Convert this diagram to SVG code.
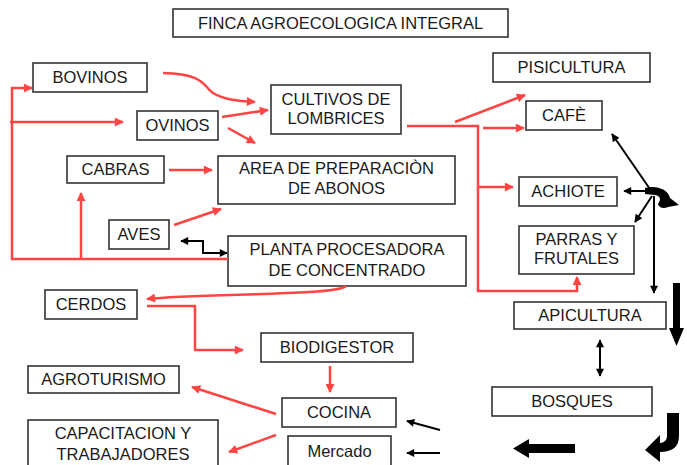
<svg xmlns="http://www.w3.org/2000/svg" width="687" height="465" viewBox="0 0 687 465">
<defs>
<style>
.box{fill:#fff;stroke:#333;stroke-width:1.6}
.t{font-family:"Liberation Sans",Arial,sans-serif;font-size:16.5px;fill:#1a1a1a;text-anchor:middle}
.r{fill:none;stroke:#f44;stroke-width:2.5}
.k{fill:none;stroke:#000;stroke-width:2}
</style>
<marker id="ra" viewBox="0 0 10 10" refX="9" refY="5" markerWidth="11" markerHeight="9" markerUnits="userSpaceOnUse" orient="auto"><path d="M0,0L10,5L0,10z" fill="#f44"/></marker>
<marker id="ka" viewBox="0 0 10 10" refX="9" refY="5" markerWidth="10" markerHeight="8" markerUnits="userSpaceOnUse" orient="auto-start-reverse"><path d="M0,0L10,5L0,10z" fill="#000"/></marker>
</defs>
<rect width="687" height="465" fill="#fff"/>
<g id="title"><rect class="box" x="173" y="9" width="335" height="28"/><text class="t" x="340.5" y="29">FINCA AGROECOLOGICA INTEGRAL</text></g>
<g id="bovinos"><rect class="box" x="33" y="63" width="114" height="29"/><text class="t" x="90" y="83">BOVINOS</text></g>
<g id="cultivos"><rect class="box" x="271" y="85" width="130" height="49"/><text class="t" x="336" y="105">CULTIVOS DE</text><text class="t" x="336" y="124">LOMBRICES</text></g>
<g id="ovinos"><rect class="box" x="137" y="111" width="81" height="29"/><text class="t" x="177.5" y="131">OVINOS</text></g>
<g id="cabras"><rect class="box" x="67" y="156" width="97" height="27"/><text class="t" x="115.5" y="175">CABRAS</text></g>
<g id="area"><rect class="box" x="218" y="156" width="237" height="48"/><text class="t" x="336.5" y="174">AREA DE PREPARACIÒN</text><text class="t" x="336.5" y="194">DE ABONOS</text></g>
<g id="aves"><rect class="box" x="109" y="220" width="60" height="29"/><text class="t" x="139" y="240">AVES</text></g>
<g id="planta"><rect class="box" x="228" y="236" width="238" height="50"/><text class="t" x="347" y="255">PLANTA PROCESADORA</text><text class="t" x="347" y="276">DE CONCENTRADO</text></g>
<g id="pisicultura"><rect class="box" x="493" y="53" width="157" height="29"/><text class="t" x="571.5" y="73">PISICULTURA</text></g>
<g id="cafe"><rect class="box" x="526" y="101" width="76" height="29"/><text class="t" x="564" y="121">CAFÈ</text></g>
<g id="achiote"><rect class="box" x="519" y="177" width="98" height="29"/><text class="t" x="568" y="197">ACHIOTE</text></g>
<g id="parras"><rect class="box" x="519" y="226" width="115" height="48"/><text class="t" x="576.5" y="245">PARRAS Y</text><text class="t" x="576.5" y="264">FRUTALES</text></g>
<g id="apicultura"><rect class="box" x="514" y="302" width="152" height="27"/><text class="t" x="590" y="321">APICULTURA</text></g>
<g id="bosques"><rect class="box" x="492" y="387" width="160" height="29"/><text class="t" x="572" y="407">BOSQUES</text></g>
<g id="cerdos"><rect class="box" x="45" y="290" width="92" height="29"/><text class="t" x="91" y="310">CERDOS</text></g>
<g id="biodigestor"><rect class="box" x="261" y="333" width="152" height="29"/><text class="t" x="337" y="353">BIODIGESTOR</text></g>
<g id="agroturismo"><rect class="box" x="28" y="366" width="151" height="27"/><text class="t" x="103.5" y="385">AGROTURISMO</text></g>
<g id="cocina"><rect class="box" x="282" y="398" width="114" height="29"/><text class="t" x="339" y="418">COCINA</text></g>
<g id="mercado"><rect class="box" x="288" y="436" width="103" height="30"/><text class="t" x="339.5" y="457">Mercado</text></g>
<g id="capacitacion"><rect class="box" x="28" y="420" width="190" height="47"/><text class="t" x="123" y="439">CAPACITACION Y</text><text class="t" x="123" y="460">TRABAJADORES</text></g>
<g id="connectors">
<path class="r" d="M163,73 C205,74 203,86 213,93 C224,100 240,101 255,102" marker-end="url(#ra)"/>
<path class="r" d="M228,259 H12 V88 H32" marker-end="url(#ra)"/>
<path class="r" d="M81,259 V193" marker-end="url(#ra)"/>
<path class="r" d="M10,122 H123" marker-end="url(#ra)"/>
<path class="r" d="M222,117 L268,110" marker-end="url(#ra)"/>
<path class="r" d="M228,128 L255,143" marker-end="url(#ra)"/>
<path class="r" d="M169,170 H212" marker-end="url(#ra)"/>
<path class="r" d="M174,225 L221,209" marker-end="url(#ra)"/>
<path class="k" d="M181,241 H203 V253 H227" stroke-width="2.5" marker-start="url(#ka)" marker-end="url(#ka)"/>
<path class="r" d="M455,122 L525,95" marker-end="url(#ra)"/>
<path class="r" d="M407,126 H478 V291 H577 V277" marker-end="url(#ra)"/>
<path class="r" d="M483,128 H524" marker-end="url(#ra)"/>
<path class="r" d="M478,187 H513" marker-end="url(#ra)"/>
<path class="r" d="M346,286 C336,296 200,293 147,299" marker-end="url(#ra)"/>
<path class="r" d="M147,306 H195 V350 H243" marker-end="url(#ra)"/>
<path class="r" d="M330,366 V392" marker-end="url(#ra)"/>
<path class="r" d="M276,414 L192,387" marker-end="url(#ra)"/>
<path class="r" d="M276,435 L229,452" marker-end="url(#ra)"/>
<path class="k" d="M652,192 L612,134" stroke-width="2.3" marker-end="url(#ka)"/>
<path class="k" d="M652,191 L624,191" stroke-width="3" marker-end="url(#ka)"/>
<path class="k" d="M652,196 L635,222" stroke-width="2.3" marker-end="url(#ka)"/>
<path class="k" d="M654,196 V293" marker-end="url(#ka)"/>
<path d="M645,188 C656,185 668,189 670,198 L679,205 L668,207 C664,209 659,208 658,204 C661,200 661,196 655,195 L645,194 Z" fill="#000"/>
<path class="k" d="M600,340 V376" stroke-width="2.3" marker-start="url(#ka)" marker-end="url(#ka)"/>
<path d="M673,283 H680 V328 H684 L676.5,346 L669,328 H673 Z" fill="#000"/>
<path d="M667,413 H679 V436 C679,447 672,452 660,452 V462 L645,450 L660,435 V443 C664,443 667,440 667,436 Z" fill="#000"/>
<path d="M575,444 V453 H529 V458 L513,448.5 L529,439 V444 Z" fill="#000"/>
<path class="k" d="M440,430 L407,421" stroke-width="1.3" marker-end="url(#ka)"/>
<path class="k" d="M440,453 L407,453" stroke-width="1.3" marker-end="url(#ka)"/>
</g>
</svg>
